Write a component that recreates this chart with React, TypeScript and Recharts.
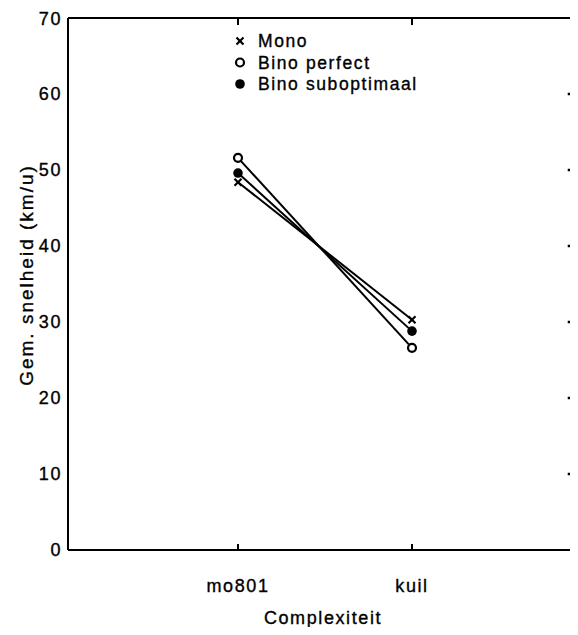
import { LineChart, Line, XAxis, YAxis, Legend, ReferenceLine } from "recharts";

const categories = ["mo801", "kuil"];
const mono = [48.4, 30.3];
const binoPerfect = [51.6, 26.6];
const binoSuboptimaal = [49.6, 28.8];
const seriesNames = ["Mono", "Bino perfect", "Bino suboptimaal"];
const yTicks = [0, 10, 20, 30, 40, 50, 60, 70];
const rightTicks = [10, 20, 30, 40, 50, 60];

const data = categories.map((name, i) => ({
  pos: i + 1,
  name,
  mono: mono[i],
  perfect: binoPerfect[i],
  sub: binoSuboptimaal[i],
}));

const xDomain = [0.023, 2.954];
const font = "'Liberation Sans', Arial, sans-serif";
const textStyle = {
  fill: "#000",
  stroke: "#000",
  strokeWidth: 0.35,
  fontSize: 18,
  letterSpacing: 1.6,
  fontFamily: font,
};
const black = { stroke: "#000", strokeWidth: 2 };
const noTick = () => <g />;

function Cross({ cx, cy }: any) {
  const s = 3.5;
  return (
    <g>
      <line x1={cx - s} y1={cy - s} x2={cx + s} y2={cy + s} stroke="#000" strokeWidth={2.2} />
      <line x1={cx - s} y1={cy + s} x2={cx + s} y2={cy - s} stroke="#000" strokeWidth={2.2} />
    </g>
  );
}

function OpenDot({ cx, cy }: any) {
  return <circle cx={cx} cy={cy} r={4} fill="#fff" stroke="#000" strokeWidth={2.2} />;
}

function FilledDot({ cx, cy }: any) {
  return <circle cx={cx} cy={cy} r={4.8} fill="#000" />;
}

const markers = [Cross, OpenDot, FilledDot];

function LegendBox() {
  return (
    <svg width={260} height={70}>
      {seriesNames.map((n, i) => {
        const M = markers[i];
        const y = 10 + i * 21.5;
        return (
          <g key={n}>
            <M cx={10} cy={y} />
            <text x={28} y={y} dominantBaseline="central" style={{ ...textStyle, fontSize: 17.5 }}>
              {n}
            </text>
          </g>
        );
      })}
    </svg>
  );
}

function YLabel({ viewBox }: any) {
  const x = 18;
  const y = viewBox ? viewBox.y + viewBox.height / 2 - 9 : 267;
  return (
    <text
      x={x}
      y={y}
      transform={`rotate(-90 ${x} ${y})`}
      textAnchor="middle"
      dominantBaseline="central"
      style={{ ...textStyle, fontSize: 19, letterSpacing: 2 }}
    >
      Gem. snelheid (km/u)
    </text>
  );
}

export default function App() {
  return (
    <div style={{ width: 570, height: 619 }}>
      <LineChart width={570} height={619} data={data} margin={{ top: 10, right: 0, left: 0, bottom: 2 }}>
        <XAxis
          xAxisId="bottom"
          dataKey="pos"
          type="number"
          domain={xDomain}
          allowDataOverflow
          ticks={[1, 2]}
          tickFormatter={(v) => categories[v - 1]}
          height={75}
          tickSize={0}
          tickMargin={29}
          tick={textStyle}
          axisLine={black}
          tickLine={false}
          label={{ value: "Complexiteit", position: "insideBottom", offset: 1, style: textStyle }}
        />
        <XAxis
          xAxisId="bottomTicks"
          dataKey="pos"
          type="number"
          domain={xDomain}
          allowDataOverflow
          ticks={[1, 2]}
          height={20}
          mirror
          tick={noTick}
          tickSize={6}
          axisLine={false}
          tickLine={black}
        />
        <XAxis
          xAxisId="top"
          orientation="top"
          dataKey="pos"
          type="number"
          domain={xDomain}
          allowDataOverflow
          ticks={[1, 2]}
          height={20}
          mirror
          tick={noTick}
          tickSize={7}
          axisLine={black}
          tickLine={black}
        />
        <YAxis
          yAxisId="left"
          domain={[0, 70]}
          ticks={yTicks}
          width={60}
          tickSize={0}
          tickMargin={6}
          tick={textStyle}
          axisLine={black}
          tickLine={false}
          label={<YLabel />}
        />
        <YAxis
          yAxisId="leftTicks"
          domain={[0, 70]}
          ticks={yTicks.slice(1)}
          width={20}
          mirror
          tick={noTick}
          tickSize={7}
          axisLine={false}
          tickLine={black}
        />
        {/* inward ticks on the right edge of the frame */}
        {rightTicks.map((v) => (
          <ReferenceLine
            key={`rt${v}`}
            xAxisId="bottom"
            yAxisId="left"
            segment={[
              { x: 2.895, y: v },
              { x: 2.935, y: v },
            ]}
            stroke="#000"
            strokeWidth={2.5}
            ifOverflow="extendDomain"
          />
        ))}
        <Legend
          verticalAlign="middle"
          align="center"
          layout="vertical"
          wrapperStyle={{ top: 23, left: 222, width: 260, height: 70 }}
          content={() => <LegendBox />}
        />
        <Line
          xAxisId="bottom"
          yAxisId="left"
          dataKey="mono"
          stroke="#000"
          strokeWidth={2}
          dot={(p: any) => <Cross key={`m${p.index}`} cx={p.cx} cy={p.cy} />}
          isAnimationActive={false}
        />
        <Line
          xAxisId="bottom"
          yAxisId="left"
          dataKey="sub"
          stroke="#000"
          strokeWidth={2}
          dot={(p: any) => <FilledDot key={`s${p.index}`} cx={p.cx} cy={p.cy} />}
          isAnimationActive={false}
        />
        <Line
          xAxisId="bottom"
          yAxisId="left"
          dataKey="perfect"
          stroke="#000"
          strokeWidth={2}
          dot={(p: any) => <OpenDot key={`p${p.index}`} cx={p.cx} cy={p.cy} />}
          isAnimationActive={false}
        />
      </LineChart>
    </div>
  );
}
